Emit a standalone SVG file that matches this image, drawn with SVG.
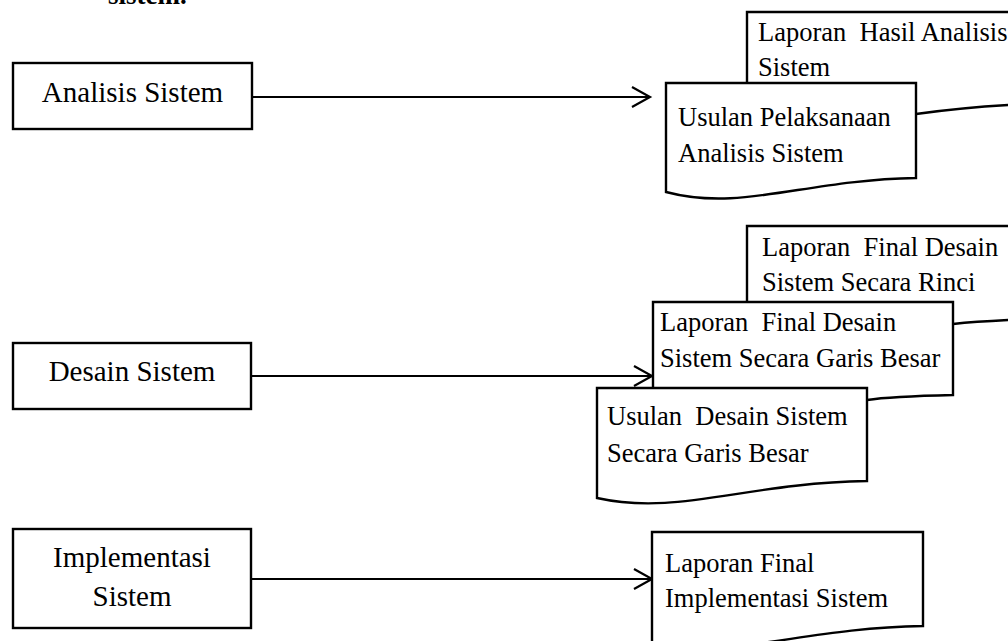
<svg xmlns="http://www.w3.org/2000/svg" width="1008" height="641" viewBox="0 0 1008 641">
<style>
.box{fill:#fff;stroke:#000;stroke-width:2.4}
.doc{fill:#fff;stroke:#000;stroke-width:2.4;stroke-linejoin:miter}
.bt{font-family:"Liberation Serif","Times New Roman",serif;font-size:29px;fill:#000;text-anchor:middle}
.dt{font-family:"Liberation Serif","Times New Roman",serif;font-size:26.5px;fill:#000;white-space:pre}
.conn{stroke:#000;stroke-width:2.2;fill:none}
</style>
<defs>
<marker id="arr" markerUnits="userSpaceOnUse" markerWidth="22" markerHeight="24" refX="19" refY="11" orient="auto">
<path d="M1,1 L19,11 L1,21" fill="none" stroke="#000" stroke-width="2.2"/>
</marker>
</defs>
<rect width="1008" height="641" fill="#fff"/>
<text x="108" y="4" style="font-family:'Liberation Serif',serif;font-size:27px;font-weight:bold">sistem.</text>

<g id="connectors">
<line class="conn" x1="252" y1="97" x2="650" y2="97" marker-end="url(#arr)"/>
<line class="conn" x1="251" y1="376" x2="652" y2="376" marker-end="url(#arr)"/>
<line class="conn" x1="251" y1="579" x2="652" y2="579" marker-end="url(#arr)"/>
</g>

<g id="analisis-sistem">
<rect class="box" x="13" y="63" width="239" height="66"/>
<text class="bt" x="132.5" y="102">Analisis Sistem</text>
</g>
<g id="desain-sistem">
<rect class="box" x="13" y="343" width="238" height="66"/>
<text class="bt" x="132" y="381">Desain Sistem</text>
</g>
<g id="implementasi-sistem">
<rect class="box" x="13" y="529" width="238" height="99"/>
<text class="bt" x="132" y="567">Implementasi</text>
<text class="bt" x="132" y="606">Sistem</text>
</g>

<g id="doc-laporan-hasil-analisis">
<path class="doc" d="M747,12 H1060 V103 C1010,104 960,108 916,114 S800,130 747,128 Z"/>
<text class="dt" x="758" y="41">Laporan  Hasil Analisis</text>
<text class="dt" x="758" y="76">Sistem</text>
</g>
<g id="doc-usulan-pelaksanaan">
<path class="doc" d="M666,83 H916 V178 C803,180 741,212 666,192 Z"/>
<text class="dt" x="678" y="126">Usulan Pelaksanaan</text>
<text class="dt" x="678" y="162">Analisis Sistem</text>
</g>

<g id="doc-laporan-final-rinci">
<path class="doc" d="M747,226 H1060 V318 C1030,319 990,320 953,324 S800,340 747,340 Z"/>
<text class="dt" x="762" y="256">Laporan  Final Desain</text>
<text class="dt" x="762" y="291">Sistem Secara Rinci</text>
</g>
<g id="doc-laporan-final-garis-besar">
<path class="doc" d="M653,302 H953 V395 C910,396 880,398 867,400 S700,420 653,410 Z"/>
<text class="dt" x="660" y="331">Laporan  Final Desain</text>
<text class="dt" x="660" y="367">Sistem Secara Garis Besar</text>
</g>
<g id="doc-usulan-desain">
<path class="doc" d="M597,388 H867 V481 C745,483 678,516 597,498 Z"/>
<text class="dt" x="607" y="425">Usulan  Desain Sistem</text>
<text class="dt" x="607" y="462">Secara Garis Besar</text>
</g>

<g id="doc-laporan-final-implementasi">
<path class="doc" d="M652,532 H923 V626 C801,628 733,660 652,643 Z"/>
<text class="dt" x="665" y="572">Laporan Final</text>
<text class="dt" x="665" y="607">Implementasi Sistem</text>
</g>
</svg>
